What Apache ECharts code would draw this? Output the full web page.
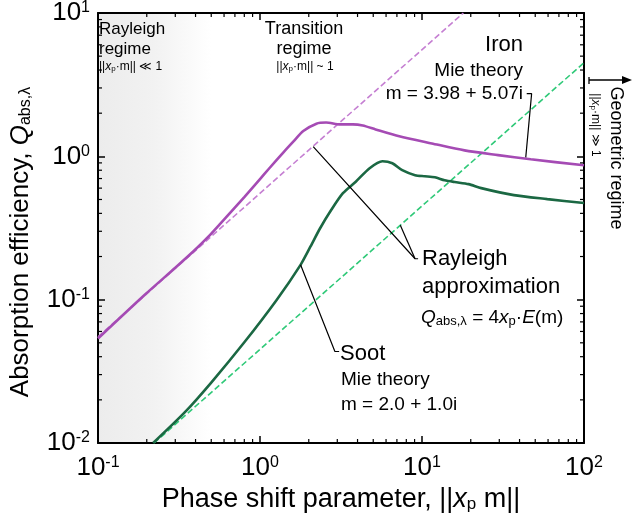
<!DOCTYPE html>
<html><head><meta charset="utf-8">
<script src="https://cdn.jsdelivr.net/npm/echarts@6/dist/echarts.min.js"></script>
<style>html,body{margin:0;padding:0;background:#fff}#c{width:632px;height:519px}</style>
</head><body><div id="c"></div>
<script>
// ---- data ----
const ironMieX = [0.1, 0.196, 0.3, 0.396, 0.48, 0.562, 0.80, 1.0, 1.135, 1.4, 1.61, 1.85, 2.23, 2.56, 3.12, 3.74, 4.31, 5.17, 7.24, 11.5, 18.3, 29.5, 46.9, 100];
const ironMieY = [0.0536, 0.109, 0.167, 0.222, 0.275, 0.334, 0.52, 0.694, 0.819, 1.07, 1.27, 1.50, 1.69, 1.72, 1.67, 1.67, 1.64, 1.54, 1.38, 1.23, 1.10, 1.02, 0.953, 0.866];
const sootMieX = [0.219, 0.344, 0.503, 0.798, 1.27, 1.78, 2.05, 2.35, 2.75, 3.25, 3.90, 4.75, 5.70, 6.56, 7.55, 9.06, 10.4, 12.0, 13.8, 15.9, 19.4, 23.2, 36.9, 59.4, 100];
const sootMieY = [0.01, 0.0164, 0.0266, 0.0502, 0.1, 0.175, 0.235, 0.315, 0.422, 0.553, 0.665, 0.826, 0.923, 0.894, 0.80, 0.738, 0.726, 0.714, 0.681, 0.662, 0.640, 0.600, 0.536, 0.503, 0.472];
const ironRayX = [0.1, 18];
const ironRayY = [0.055, 10];
const sootRayX = [0.222, 100];
const sootRayY = [0.01, 4.5];
// leader lines (data space)
const leadRay1 = [[2.13, 1.17], [9.06, 0.193], [9.46, 0.193]];
const leadRay2 = [[7.35, 0.33], [9.06, 0.193]];
const leadSoot = [[1.78, 0.175], [2.90, 0.0435], [3.08, 0.0435]];
const leadIron = [[44.3, 2.74], [47.5, 2.74], [43.7, 0.984]];
const xMin = 0.1, xMax = 100, yMin = 0.01, yMax = 10;
const rayleighShade = [0.1, 0.5];

const zip = (xs, ys) => xs.map((x, i) => [x, ys[i]]);
const FONT = "'Liberation Sans', Arial, Helvetica, sans-serif";

function minorVals(lo, hi) {
  const out = [];
  for (let d = Math.log10(lo); d < Math.log10(hi); d++) {
    for (let k = 2; k <= 9; k++) out.push(+(k * Math.pow(10, d)).toPrecision(6));
  }
  return out;
}
const minorX = minorVals(xMin, xMax);
const minorY = minorVals(yMin, yMax);

function tickSeries(vals, dim, len) {
  return {
    type: 'custom', coordinateSystem: 'cartesian2d', silent: true, clip: false, z: 10,
    data: vals.map(v => dim === 'x' ? [v, 1] : [1, v]),
    renderItem: function (params, api) {
      const st = { stroke: '#000', lineWidth: 1.2 };
      if (dim === 'x') {
        const v = api.value(0);
        const b = api.coord([v, yMin]), t = api.coord([v, yMax]);
        return { type: 'group', children: [
          { type: 'line', shape: { x1: b[0], y1: b[1], x2: b[0], y2: b[1] - len }, style: st },
          { type: 'line', shape: { x1: t[0], y1: t[1], x2: t[0], y2: t[1] + len }, style: st }
        ]};
      } else {
        const v = api.value(1);
        const l = api.coord([xMin, v]), r = api.coord([xMax, v]);
        return { type: 'group', children: [
          { type: 'line', shape: { x1: l[0], y1: l[1], x2: l[0] + len, y2: l[1] }, style: st },
          { type: 'line', shape: { x1: r[0], y1: r[1], x2: r[0] - len, y2: r[1] }, style: st }
        ]};
      }
    }
  };
}

const lbl = v => '{b|10}{s|' + Math.round(Math.log10(v)) + '}';
const lblRich = {
  b: { fontSize: 26, fontFamily: FONT, color: '#000' },
  s: { fontSize: 16, fontFamily: FONT, color: '#000', verticalAlign: 'top' }
};
const axisCommon = {
  axisLine: { show: true, lineStyle: { color: '#000', width: 2 } },
  axisTick: { show: true, inside: true, length: 7, lineStyle: { color: '#000', width: 1.5 } },
  splitLine: { show: false }, minorTick: { show: false }
};

const leader = d => ({ type: 'line', data: d, symbol: 'none', silent: true, z: 4,
  lineStyle: { color: '#000', width: 1.2 } });

const smallRich = (fs) => ({ n: { fontSize: fs, fontFamily: FONT, color: '#000' },
  i: { fontSize: fs, fontFamily: FONT, fontStyle: 'italic', color: '#000' },
  sb: { fontSize: Math.round(fs * 0.68), fontFamily: FONT, color: '#000', verticalAlign: 'bottom' } });

const chart = echarts.init(document.getElementById('c'), null, { renderer: 'canvas' });
chart.setOption({
  animation: false,
  backgroundColor: '#fff',
  grid: { left: 92, top: 12, right: 48, bottom: 76, containLabel: false },
  xAxis: [
    Object.assign({ type: 'log', logBase: 10, min: xMin, max: xMax, position: 'bottom',
      axisLabel: { formatter: lbl, rich: lblRich, margin: 12 },
      name: '{n|Phase shift parameter, ||}{i|x}{sb|p}{n| m||}', nameLocation: 'middle', nameGap: 37,
      nameTextStyle: { rich: {
        n: { fontSize: 27, fontFamily: FONT, color: '#000' },
        i: { fontSize: 27, fontFamily: FONT, fontStyle: 'italic', color: '#000' },
        sb: { fontSize: 17, fontFamily: FONT, color: '#000', verticalAlign: 'bottom' } } }
    }, axisCommon),
    Object.assign({ type: 'log', logBase: 10, min: xMin, max: xMax, position: 'top',
      axisLabel: { show: false } }, axisCommon)
  ],
  yAxis: [
    Object.assign({ type: 'log', logBase: 10, min: yMin, max: yMax, position: 'left',
      axisLabel: { formatter: lbl, rich: lblRich, margin: 8 },
      name: '{n|Absorption efficiency, }{q|Q}{sb|abs,λ}', nameLocation: 'middle', nameGap: 64, nameRotate: 90,
      nameTextStyle: { padding: [0, 28, 0, 0], rich: {
        n: { fontSize: 26, fontFamily: FONT, color: '#000' },
        q: { fontSize: 26, fontFamily: FONT, fontStyle: 'italic', color: '#000' },
        sb: { fontSize: 16, fontFamily: FONT, color: '#000', verticalAlign: 'bottom' } } }
    }, axisCommon),
    Object.assign({ type: 'log', logBase: 10, min: yMin, max: yMax, position: 'right',
      axisLabel: { show: false } }, axisCommon)
  ],
  series: [
    { type: 'line', name: 'Iron Rayleigh', data: zip(ironRayX, ironRayY), symbol: 'none', z: 2,
      lineStyle: { color: '#c57fd2', width: 1.6, type: [6, 3] },
      markArea: { silent: true, z: 0, itemStyle: { color: new echarts.graphic.LinearGradient(0, 0, 1, 0, [
        { offset: 0, color: '#ececec' }, { offset: 0.5, color: '#f2f2f2' }, { offset: 1, color: '#ffffff' }]) },
        data: [[{ xAxis: rayleighShade[0] }, { xAxis: rayleighShade[1] }]] } },
    { type: 'line', name: 'Soot Rayleigh', data: zip(sootRayX, sootRayY), symbol: 'none', z: 2,
      lineStyle: { color: '#2fc978', width: 1.6, type: [6, 3] } },
    { type: 'line', name: 'Iron Mie', data: zip(ironMieX, ironMieY), symbol: 'none', smooth: 0.25, z: 3,
      lineStyle: { color: '#a54bb4', width: 2.6 } },
    { type: 'line', name: 'Soot Mie', data: zip(sootMieX, sootMieY), symbol: 'none', smooth: 0.25, z: 3,
      lineStyle: { color: '#1b6843', width: 2.6 } },
    leader(leadRay1), leader(leadRay2), leader(leadSoot), leader(leadIron),
    tickSeries(minorX, 'x', 4), tickSeries(minorY, 'y', 4)
  ],
  graphic: { elements: [
    // Rayleigh regime
    { type: 'text', z: 100, x: 99, y: 19, style: { text: 'Rayleigh\nregime', font: '17px ' + FONT, fill: '#000', lineHeight: 20 } },
    { type: 'text', z: 100, x: 99, y: 67, style: { text: '{n|||}{i|x}{sb|p}{n|·m|| ≪ 1}', verticalAlign: 'middle', rich: smallRich(12) } },
    // Transition regime
    { type: 'text', z: 100, x: 304, y: 19, style: { text: 'Transition\nregime', font: '18px ' + FONT, fill: '#000', align: 'center', lineHeight: 20 } },
    { type: 'text', z: 100, x: 305, y: 67, style: { text: '{n|||}{i|x}{sb|p}{n|·m|| ~ 1}', align: 'center', verticalAlign: 'middle', rich: smallRich(12) } },
    // Iron
    { type: 'text', z: 100, x: 523, y: 45, style: { text: 'Iron', font: '22px ' + FONT, fill: '#000', align: 'right', verticalAlign: 'middle' } },
    { type: 'text', z: 100, x: 523, y: 71, style: { text: 'Mie theory', font: '19px ' + FONT, fill: '#000', align: 'right', verticalAlign: 'middle' } },
    { type: 'text', z: 100, x: 523, y: 94, style: { text: 'm = 3.98 + 5.07i', font: '19px ' + FONT, fill: '#000', align: 'right', verticalAlign: 'middle' } },
    // Rayleigh approximation
    { type: 'text', z: 100, x: 422, y: 259, style: { text: 'Rayleigh', font: '22px ' + FONT, fill: '#000', verticalAlign: 'middle' } },
    { type: 'text', z: 100, x: 422, y: 287, style: { text: 'approximation', font: '22px ' + FONT, fill: '#000', verticalAlign: 'middle' } },
    { type: 'text', z: 100, x: 421, y: 318, style: { text: '{i|Q}{sb|abs,λ}{n| = 4}{i|x}{sb|p}{n|·}{i|E}{n|(m)}', verticalAlign: 'middle', rich: smallRich(19) } },
    // Soot
    { type: 'text', z: 100, x: 340, y: 354, style: { text: 'Soot', font: '22px ' + FONT, fill: '#000', verticalAlign: 'middle' } },
    { type: 'text', z: 100, x: 341, y: 380, style: { text: 'Mie theory', font: '19px ' + FONT, fill: '#000', verticalAlign: 'middle' } },
    { type: 'text', z: 100, x: 341, y: 405, style: { text: 'm = 2.0 + 1.0i', font: '19px ' + FONT, fill: '#000', verticalAlign: 'middle' } },
    // Geometric regime arrow
    { type: 'line', z: 100, shape: { x1: 589, y1: 80, x2: 627, y2: 80 }, style: { stroke: '#000', lineWidth: 1.3 } },
    { type: 'line', z: 100, shape: { x1: 589, y1: 77, x2: 589, y2: 84 }, style: { stroke: '#000', lineWidth: 1.3 } },
    { type: 'polygon', z: 100, shape: { points: [[632, 80], [622, 76], [622, 84]] }, style: { fill: '#000' } },
    { type: 'text', z: 100, x: 616, y: 158, rotation: -Math.PI / 2, style: { text: 'Geometric regime', font: '18px ' + FONT, fill: '#000', align: 'center', verticalAlign: 'middle' } },
    { type: 'text', z: 100, x: 595, y: 125, rotation: -Math.PI / 2, style: { text: '{n|||}{i|x}{sb|p}{n|·m|| ≫ 1}', align: 'center', verticalAlign: 'middle', rich: smallRich(12) } }
  ] }
});
</script></body></html>
